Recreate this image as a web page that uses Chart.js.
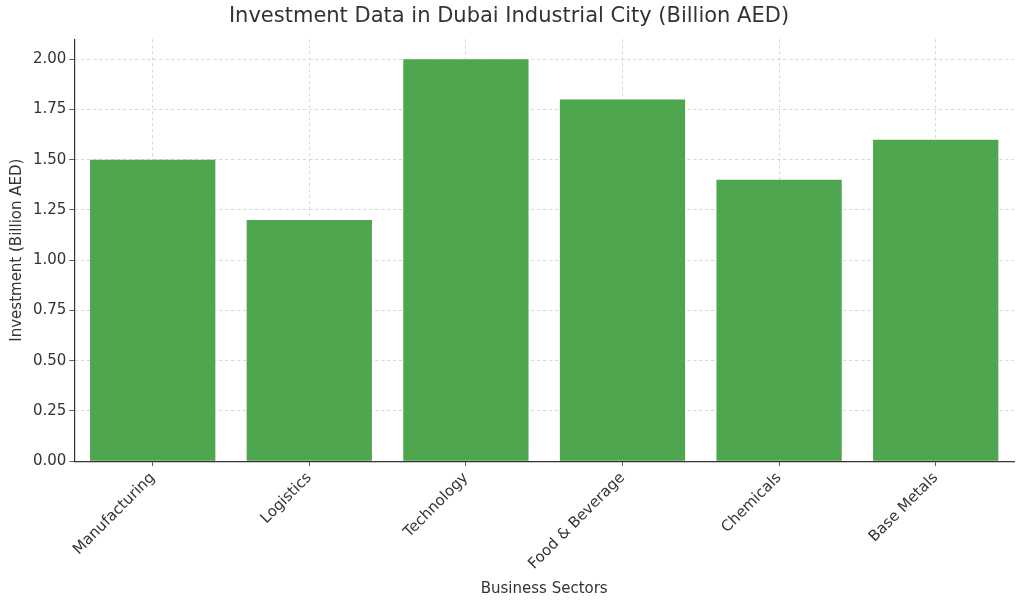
<!DOCTYPE html>
<html>
<head>
<meta charset="utf-8">
<script src="https://cdn.jsdelivr.net/npm/chart.js@4"></script>
<style>
  body { margin: 0; background: #fff; }
  #wrap { width: 1024px; height: 610px; }
</style>
</head>
<body>
<div id="wrap"><canvas id="myChart"></canvas></div>
<script>
const sectors = ['Manufacturing', 'Logistics', 'Technology', 'Food & Beverage', 'Chemicals', 'Base Metals'];
const investment = [1.5, 1.2, 2.0, 1.8, 1.4, 1.6];

Chart.defaults.font.family = 'DejaVu Sans';
Chart.defaults.color = '#333';

const gridStyle = {
  color: '#cccccc',
  lineWidth: 0.8,
  tickColor: '#333',
  tickLength: 5,
  drawTicks: true
};

new Chart(document.getElementById('myChart'), {
  type: 'bar',
  data: {
    labels: sectors,
    datasets: [{
      label: 'Investment',
      data: investment,
      backgroundColor: '#4ea64e',
      barPercentage: 0.8,
      categoryPercentage: 1
    }]
  },
  options: {
    responsive: true,
    maintainAspectRatio: false,
    animation: false,
    layout: { padding: { left: 4, right: 10, top: 2, bottom: 8 } },
    plugins: {
      legend: { display: false },
      tooltip: { enabled: false },
      title: {
        display: true,
        text: 'Investment Data in Dubai Industrial City (Billion AED)',
        font: { size: 21, weight: 'normal' },
        color: '#333',
        padding: { top: 2, bottom: 10 }
      }
    },
    scales: {
      x: {
        grid: { ...gridStyle, offset: false },
        border: { color: '#333', width: 1.2, dash: [3, 3] },
        ticks: { maxRotation: 45, minRotation: 45, font: { size: 15 }, color: '#333' },
        title: { display: true, text: 'Business Sectors', font: { size: 15 }, color: '#333', padding: { top: 4 } }
      },
      y: {
        min: 0,
        max: 2.1,
        grid: gridStyle,
        border: { color: '#333', width: 1.2, dash: [3, 3] },
        afterBuildTicks: (axis) => {
          axis.ticks = [0, 0.25, 0.5, 0.75, 1, 1.25, 1.5, 1.75, 2].map(v => ({ value: v }));
        },
        ticks: {
          font: { size: 15 },
          color: '#333',
          callback: (v) => Number(v).toFixed(2)
        },
        title: { display: true, text: 'Investment (Billion AED)', font: { size: 15 }, color: '#333' }
      }
    }
  }
});
</script>
</body>
</html>
